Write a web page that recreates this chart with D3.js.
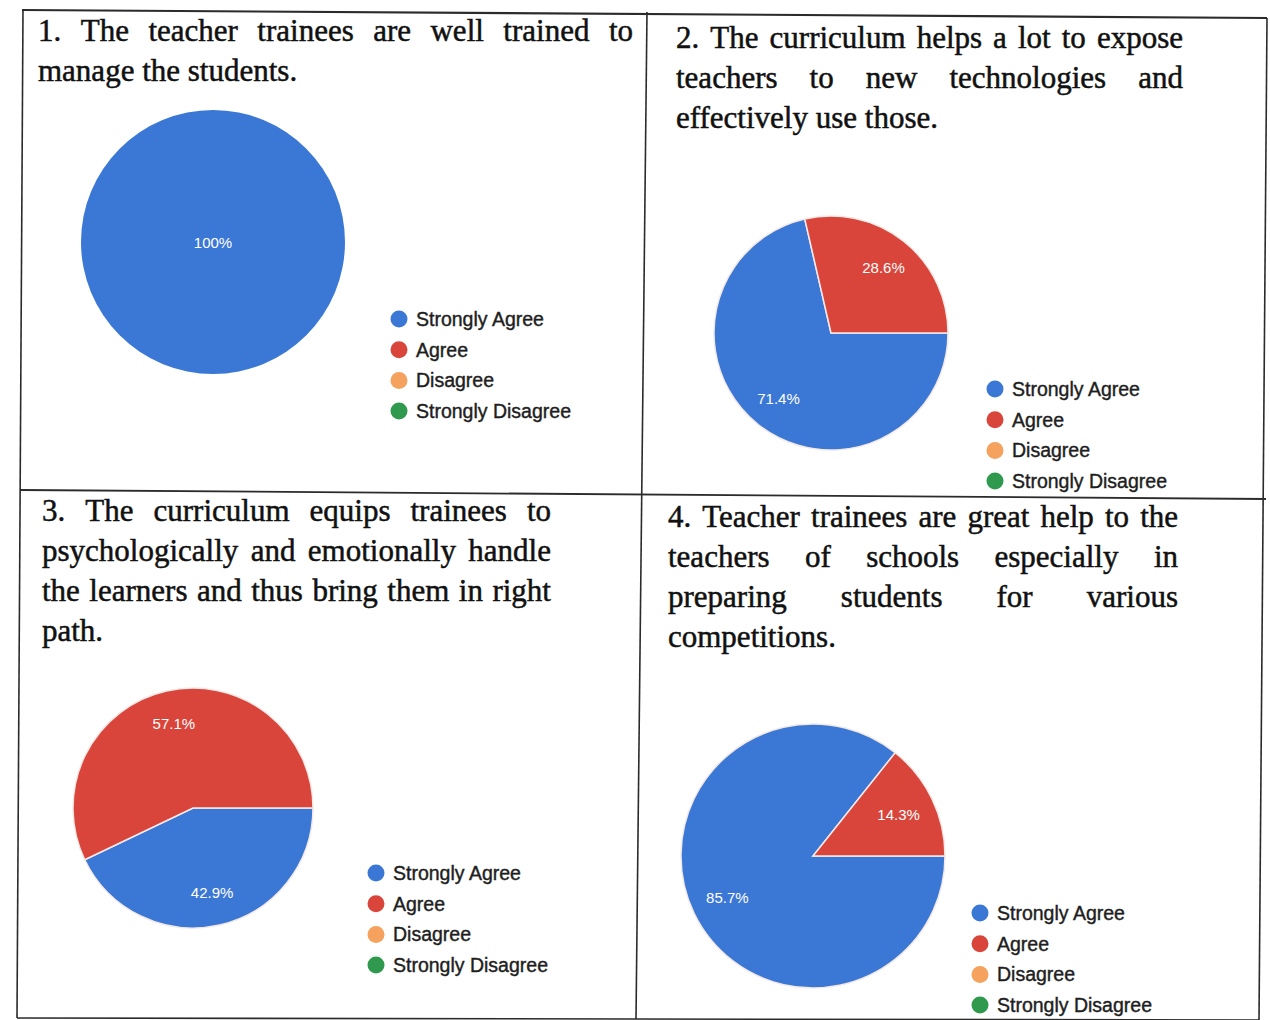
<!DOCTYPE html>
<html>
<head>
<meta charset="utf-8">
<script src="https://cdn.jsdelivr.net/npm/d3@7"></script>
<style>
  html, body { margin: 0; padding: 0; background: #fff; }
  svg { display: block; }
</style>
</head>
<body>
<svg id="chart" width="1270" height="1020"></svg>
<script>
// Response categories shared by all four questions
const categories = ["Strongly Agree", "Agree", "Disagree", "Strongly Disagree"];
const categoryColors = ["#3b78d6", "#d9453b", "#f4a25d", "#2f9a4e"];

// Percentage of respondents per category, one array per question
const q1Values = [100, 0, 0, 0];
const q2Values = [71.4, 28.6, 0, 0];
const q3Values = [42.9, 57.1, 0, 0];
const q4Values = [85.7, 14.3, 0, 0];

// Question texts, already broken into lines
const q1Title = ["1. The teacher trainees are well trained to", "manage the students."];
const q2Title = ["2. The curriculum helps a lot to expose", "teachers to new technologies and", "effectively use those."];
const q3Title = ["3. The curriculum equips trainees to", "psychologically and emotionally handle", "the learners and thus bring them in right", "path."];
const q4Title = ["4. Teacher trainees are great help to the", "teachers of schools especially in", "preparing students for various", "competitions."];

// Layout of each panel: title block, pie and legend placement
const panels = [
  { values: q1Values, title: q1Title, tx: 38,  ty: 41,  tw: 595, cx: 213, cy: 242, r: 132, lx: 399, ly: 319 },
  { values: q2Values, title: q2Title, tx: 676, ty: 48,  tw: 507, cx: 831, cy: 333, r: 117, lx: 995, ly: 389 },
  { values: q3Values, title: q3Title, tx: 42,  ty: 521, tw: 509, cx: 193, cy: 808, r: 120, lx: 376, ly: 873 },
  { values: q4Values, title: q4Title, tx: 668, ty: 527, tw: 510, cx: 813, cy: 856, r: 132, lx: 980, ly: 913 }
];

const svg = d3.select("#chart");

// Table frame (slightly skewed, as on the printed page)
const frame = svg.append("g").attr("stroke", "#2b2b2b").attr("fill", "none");
const frameLines = [
  [[22, 10], [1267, 18], 2.2],
  [[23, 10], [17, 1018], 1.6],
  [[1267, 18], [1259, 1020], 1.6],
  [[17, 1018], [1259, 1020], 1.6],
  [[647, 12], [636, 1019], 1.6],
  [[20, 490], [1266, 499], 1.8]
];
frameLines.forEach(([a, b, w]) => {
  frame.append("line")
    .attr("x1", a[0]).attr("y1", a[1]).attr("x2", b[0]).attr("y2", b[1])
    .attr("stroke-width", w);
});

const pie = d3.pie()
  .sort(null)
  .value(d => d)
  .startAngle(Math.PI / 2)
  .endAngle(Math.PI / 2 + 2 * Math.PI);

const lineHeight = 40;

panels.forEach(p => {
  const g = svg.append("g");

  // Justified question text: every line but the last fills the column width
  const tg = g.append("g")
    .attr("font-family", "'Liberation Serif', 'Times New Roman', serif")
    .attr("font-size", 31)
    .attr("fill", "#111")
    .attr("stroke", "#111")
    .attr("stroke-width", 0.5);
  p.title.forEach((line, i) => {
    const y = p.ty + i * lineHeight;
    const words = line.split(" ");
    const last = i === p.title.length - 1;
    const nodes = words.map(w => tg.append("text").attr("y", y).text(w));
    const widths = nodes.map(n => n.node().getComputedTextLength());
    const total = d3.sum(widths);
    const space = last || words.length < 2 ? 31 * 0.25 : (p.tw - total) / (words.length - 1);
    let x = p.tx;
    nodes.forEach((n, k) => { n.attr("x", x); x += widths[k] + space; });
  });

  // Pie
  const arcs = pie(p.values).filter(d => d.data > 0);
  const arc = d3.arc().innerRadius(0).outerRadius(p.r);
  const labelArc = d3.arc().innerRadius(p.r * 0.72).outerRadius(p.r * 0.72);
  const pg = g.append("g").attr("transform", `translate(${p.cx},${p.cy})`);
  pg.selectAll("path")
    .data(arcs)
    .join("path")
    .attr("d", arc)
    .attr("fill", d => categoryColors[d.index])
    .attr("stroke", arcs.length > 1 ? "#f3e9e6" : "none")
    .attr("stroke-width", 1.5);

  pg.selectAll("text")
    .data(arcs)
    .join("text")
    .attr("transform", d => d.data >= 100 ? "translate(0,0)" : `translate(${labelArc.centroid(d)})`)
    .attr("text-anchor", "middle")
    .attr("dominant-baseline", "central")
    .attr("font-family", "'Liberation Sans', Arial, sans-serif")
    .attr("font-size", 15)
    .attr("fill", "#fff")
    .text(d => `${d.data}%`);

  // Legend
  const lg = g.append("g").attr("transform", `translate(${p.lx},${p.ly})`);
  const items = lg.selectAll("g")
    .data(categories)
    .join("g")
    .attr("transform", (d, i) => `translate(0,${i * 30.7})`);
  items.append("circle")
    .attr("r", 8.5)
    .attr("fill", (d, i) => categoryColors[i]);
  items.append("text")
    .attr("x", 17)
    .attr("dominant-baseline", "central")
    .attr("font-family", "'Liberation Sans', Arial, sans-serif")
    .attr("font-size", 19.5)
    .attr("fill", "#1e1e1e")
    .attr("stroke", "#1e1e1e")
    .attr("stroke-width", 0.4)
    .text(d => d);
});
</script>
</body>
</html>
